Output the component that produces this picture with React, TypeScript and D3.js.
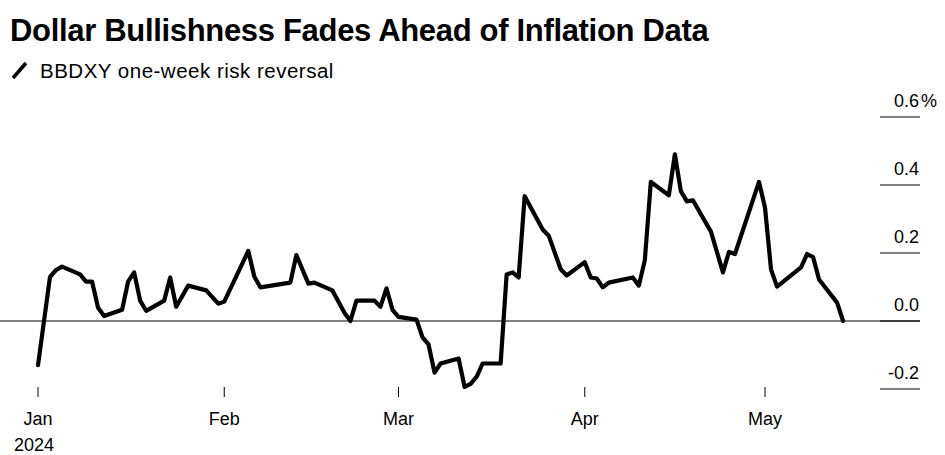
import React, { useEffect } from 'react'
import * as d3 from 'd3'

const title = 'Dollar Bullishness Fades Ahead of Inflation Data'
const seriesName = 'BBDXY one-week risk reversal'

const dates = [
	'2024-01-01', '2024-01-03', '2024-01-04', '2024-01-05', '2024-01-08', '2024-01-09', '2024-01-10', '2024-01-11',
	'2024-01-12', '2024-01-15', '2024-01-16', '2024-01-17', '2024-01-18', '2024-01-19', '2024-01-22', '2024-01-23',
	'2024-01-24', '2024-01-26', '2024-01-29', '2024-01-31', '2024-02-01', '2024-02-05', '2024-02-06', '2024-02-07',
	'2024-02-12', '2024-02-13', '2024-02-15', '2024-02-16', '2024-02-19', '2024-02-21', '2024-02-22', '2024-02-23',
	'2024-02-26', '2024-02-27', '2024-02-28', '2024-02-29', '2024-03-01', '2024-03-04', '2024-03-05', '2024-03-06',
	'2024-03-07', '2024-03-08', '2024-03-11', '2024-03-12', '2024-03-13', '2024-03-14', '2024-03-15', '2024-03-18',
	'2024-03-19', '2024-03-20', '2024-03-21', '2024-03-22', '2024-03-25', '2024-03-26', '2024-03-28', '2024-03-29',
	'2024-04-01', '2024-04-02', '2024-04-03', '2024-04-04', '2024-04-05', '2024-04-09', '2024-04-10', '2024-04-11',
	'2024-04-12', '2024-04-15', '2024-04-16', '2024-04-17', '2024-04-18', '2024-04-19', '2024-04-22', '2024-04-24',
	'2024-04-25', '2024-04-26', '2024-04-30', '2024-05-01', '2024-05-02', '2024-05-03', '2024-05-07', '2024-05-08',
	'2024-05-09', '2024-05-10', '2024-05-13', '2024-05-14'
]
const values = [
	-0.13, 0.13, 0.15, 0.16, 0.137, 0.116, 0.116, 0.039,
	0.015, 0.033, 0.116, 0.143, 0.06, 0.03, 0.06, 0.128,
	0.042, 0.104, 0.09, 0.051, 0.057, 0.206, 0.131, 0.099,
	0.113, 0.194, 0.11, 0.113, 0.09, 0.024, 0.0, 0.06,
	0.06, 0.042, 0.096, 0.033, 0.012, 0.004, -0.048, -0.069,
	-0.152, -0.125, -0.11, -0.194, -0.185, -0.164, -0.125, -0.125,
	0.137, 0.143, 0.128, 0.367, 0.269, 0.251, 0.152, 0.134,
	0.173, 0.128, 0.125, 0.099, 0.113, 0.128, 0.104, 0.179,
	0.409, 0.37, 0.49, 0.382, 0.352, 0.355, 0.263, 0.143,
	0.203, 0.197, 0.409, 0.334, 0.152, 0.101, 0.158, 0.197,
	0.188, 0.122, 0.054, 0.0
]
const yTicks = [-0.2, 0.0, 0.2, 0.4, 0.6]
const monthTicks = ['2024-01-01', '2024-02-01', '2024-03-01', '2024-04-01', '2024-05-01']
const monthLabels = ['Jan', 'Feb', 'Mar', 'Apr', 'May']

const font = '"Liberation Sans", Arial, sans-serif'

const App = () => {
	useEffect(() => {
		document.body.style.margin = '0'
	}, [])

	const parse = d3.utcParse('%Y-%m-%d')
	const x = d3
		.scaleUtc()
		.domain([parse('2024-01-01')!, parse('2024-05-01')!])
		.range([38, 765])
	const y = d3.scaleLinear().domain([0, 0.6]).range([321, 117])

	const points = dates.map((d, i) => [x(parse(d)!), y(values[i])] as [number, number])
	const line = d3.line().curve(d3.curveLinear)(points)

	return (
		<svg width={945} height={455} style={{ display: 'block', fontFamily: font }}>
			<rect width={945} height={455} fill="#fff" />
			<text x={10} y={41} fontSize={31} fontWeight="bold" fill="#000" letterSpacing={-0.32}>
				{title}
			</text>
			<line x1={13} y1={78} x2={26} y2={63} stroke="#000" strokeWidth={3.5} />
			<text x={40} y={78} fontSize={20.5} fill="#000" letterSpacing={0.5}>
				{seriesName}
			</text>

			{/* y axis */}
			{yTicks.map((t) => (
				<g key={t}>
					<line x1={880} x2={920} y1={y(t)} y2={y(t)} stroke="#000" strokeWidth={1} />
					<text x={919} y={y(t) - 10} fontSize={18} textAnchor="end" fill="#000">
						{t.toFixed(1)}
					</text>
					{t === 0.6 && (
						<text x={921} y={y(t) - 10} fontSize={18} fill="#000">
							%
						</text>
					)}
				</g>
			))}
			<line x1={0} x2={920} y1={y(0)} y2={y(0)} stroke="#000" strokeWidth={1} />

			{/* x axis */}
			{monthTicks.map((m, i) => {
				const px = x(parse(m)!)
				return (
					<g key={m}>
						<line x1={px} x2={px} y1={387} y2={397} stroke="#000" strokeWidth={1} />
						<text x={px} y={425} fontSize={18} textAnchor="middle" fill="#000">
							{monthLabels[i]}
						</text>
					</g>
				)
			})}
			<text x={14} y={451} fontSize={18} fill="#000">
				2024
			</text>

			<path d={line ?? ''} fill="none" stroke="#000" strokeWidth={4.2} strokeLinejoin="round" strokeLinecap="round" />
		</svg>
	)
}

export default App
